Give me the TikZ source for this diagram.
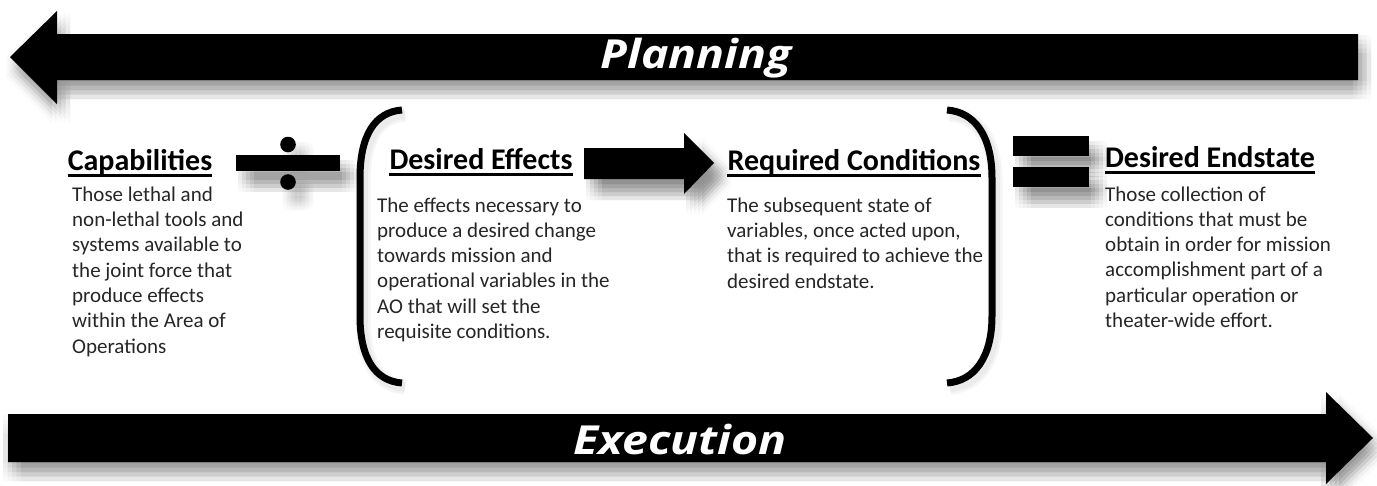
\documentclass[tikz,border=0pt]{standalone}
\usepackage{fontspec}
\setmainfont{Carlito}
\newfontfamily\bannerfont{Open Sans}
% soft shadow by stacking shifted translucent copies (box blur)
% #1 path, #2/#3 page offset, #4 spacing of the 5x5 grid, #5 opacity per copy
\newcommand\blockshadow[5]{%
  \foreach \i in {-2,...,2}{%
    \foreach \j in {-2,...,2}{%
      \fill[black, opacity=#5, transform canvas={shift={({#2+\i*#4},{#3+\j*#4})}}] #1;}}%
  \fill[black] #1;}
\begin{document}
\begin{tikzpicture}[x=1pt,y=-1pt,
  head/.style={font=\fontsize{30}{36}\selectfont\bfseries, inner sep=0pt, anchor=base, text=black},
  body/.style={font=\fontsize{21}{25.3}\selectfont, text=black!85, inner sep=0pt, anchor=base west, align=left},
  banner/.style={font=\bannerfont\fontsize{40}{46}\selectfont\bfseries\itshape, text=white, inner sep=0pt, anchor=base},
  uline/.style={line width=2.2pt},
  paren/.style={line width=7pt,
    preaction={draw=black, opacity=0.04, line width=15pt, transform canvas={shift={(3pt,-4pt)}}},
    preaction={draw=black, opacity=0.04, line width=10pt, transform canvas={shift={(3pt,-4pt)}}}}
]
\useasboundingbox (0,0) rectangle (1377,485);
\fill[white] (0,0) rectangle (1377,485);

% Planning arrow
\blockshadow{(1358,34) -- (57,34) -- (57,11) -- (10,57) -- (57,104) -- (57,80) -- (1358,80) -- cycle}{4pt}{-10pt}{4.5pt}{0.021}
\node[banner] (plan) at (696,68) {\scalebox{1.16}[1]{Planning}};

% Execution arrow
\blockshadow{(8,414) -- (1326,414) -- (1326,392) -- (1373,438) -- (1326,484) -- (1326,462) -- (8,462) -- cycle}{4pt}{-10pt}{4.5pt}{0.021}
\node[banner] (exec) at (680,454) {\scalebox{1.16}[1]{Execution}};

% headings
\node[head] (cap) at (140,170) {Capabilities};
\node[head] (eff) at (481,169) {Desired Effects};
\node[head] (req) at (854,170) {Required Conditions};
\node[head] (end) at (1210,167) {Desired Endstate};
\foreach \n in {cap,eff,req,end}
  \draw[uline] ([yshift=-5.5pt]\n.base west) -- ([yshift=-5.5pt]\n.base east);

% bodies (anchored at the baseline of their last line)
\node[body] (capb) at (72,353) {Those lethal and\\non-lethal tools and\\systems available to\\the joint force that\\produce effects\\within the Area of\\Operations};
\node[body] (effb) at (377,338.5) {The effects necessary to\\produce a desired change\\towards mission and\\operational variables in the\\AO that will set the\\requisite conditions.};
\node[body] (reqb) at (727,288) {The subsequent state of\\variables, once acted upon,\\that is required to achieve the\\desired endstate.};
\node[body] (endb) at (1105,327.5) {Those collection of\\conditions that must be\\obtain in order for mission\\accomplishment part of a\\particular operation or\\theater-wide effort.};

% division sign
\blockshadow{(236,155) rectangle (340,171)}{10pt}{-13pt}{4pt}{0.018}
\blockshadow{(288,144.5) circle (7.8)}{10pt}{-13pt}{4pt}{0.015}
\blockshadow{(288,182) circle (7.8)}{10pt}{-13pt}{4pt}{0.015}

% middle arrow
\blockshadow{(584,148) -- (684,148) -- (684,133) -- (714,163) -- (684,194) -- (684,179) -- (584,179) -- cycle}{10pt}{-13pt}{4pt}{0.018}

% equals
\blockshadow{(1013,136) rectangle (1089,156)}{10pt}{-13pt}{4pt}{0.018}
\blockshadow{(1013,167) rectangle (1089,187)}{10pt}{-13pt}{4pt}{0.018}

% parentheses
\draw[paren] (402,110) .. controls (375,112) and (360,135) .. (360,178) -- (360,316) .. controls (360,358) and (375,381) .. (402,383);
\draw[paren] (947,110) .. controls (974,112) and (992,135) .. (992,178) -- (992,316) .. controls (992,358) and (974,381) .. (947,383);
\end{tikzpicture}
\end{document}
